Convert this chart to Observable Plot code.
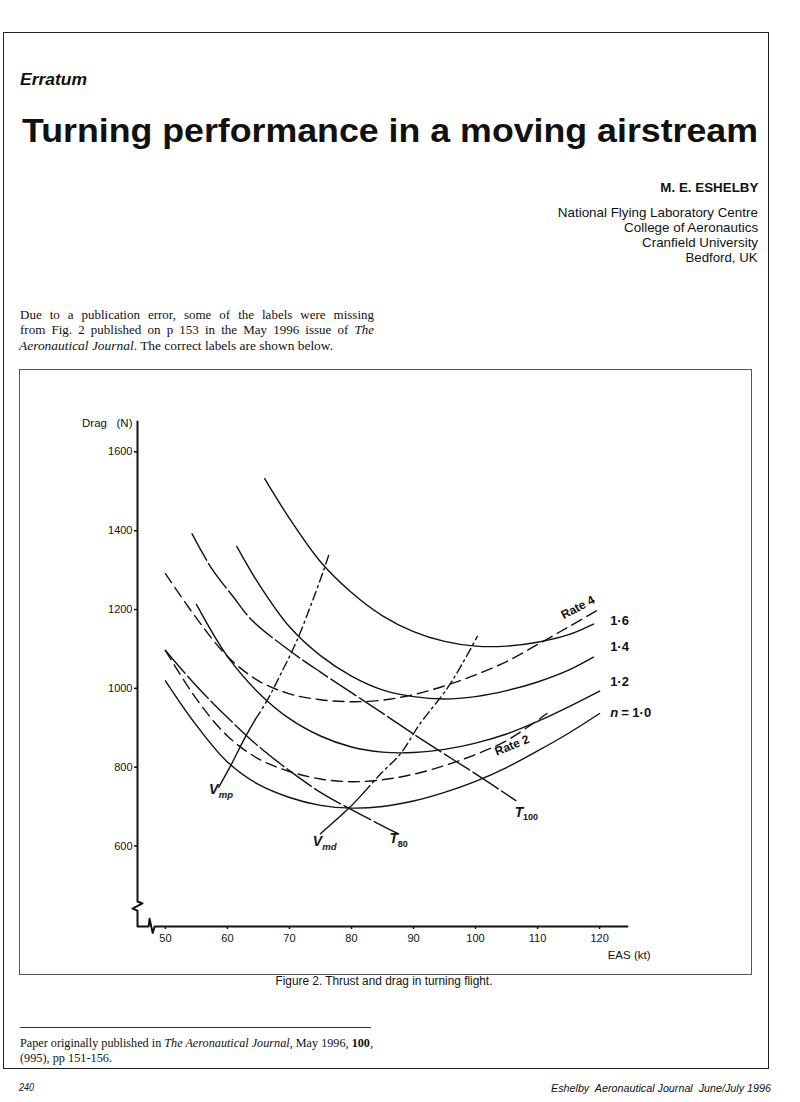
<!DOCTYPE html>
<html><head><meta charset="utf-8">
<script src="https://cdn.jsdelivr.net/npm/d3@7"></script>
<script src="https://cdn.jsdelivr.net/npm/@observablehq/plot@0.6"></script>
<style>
body{margin:0;background:#fff;}
#page{position:relative;width:800px;height:1102px;overflow:hidden;background:#fff;color:#111;font-family:"Liberation Sans",Arial,Helvetica,sans-serif;}
.t{position:absolute;white-space:pre;}
.serif{font-family:"Liberation Serif","Times New Roman",serif;}
.box{position:absolute;box-sizing:border-box;}
#chart{position:absolute;left:0;top:380px;}
#chart svg{overflow:visible;}
</style></head>
<body><div id="page">
<div class="box" style="left:3px;top:32px;width:766px;height:1037px;border:1.5px solid #222;"></div>
<div class="box" style="left:19px;top:369px;width:733px;height:606px;border:1px solid #555;"></div>
<div id="erratum" class="t" style="font-weight:bold;font-style:italic;">Erratum</div>
<div id="title" class="t" style="font-weight:bold;">Turning performance in a moving airstream</div>
<div id="author" class="t" style="font-weight:bold;">M. E. ESHELBY</div>
<div id="aff1" class="t">National Flying Laboratory Centre</div>
<div id="aff2" class="t">College of Aeronautics</div>
<div id="aff3" class="t">Cranfield University</div>
<div id="aff4" class="t">Bedford, UK</div>
<div id="p1" class="t serif">Due to a publication error, some of the labels were missing</div>
<div id="p2" class="t serif">from Fig. 2 published on p 153 in the May 1996 issue of <i>The</i></div>
<div id="p3" class="t serif"><i>Aeronautical Journal</i>. The correct labels are shown below.</div>
<div id="chart"></div>
<div id="caption" class="t">Figure 2. Thrust and drag in turning flight.</div>
<div class="box" style="left:20px;top:1026.5px;width:351px;height:1px;background:#333;"></div>
<div id="f1" class="t serif">Paper originally published in <i>The Aeronautical Journal</i>, May 1996, <b>100</b>,</div>
<div id="f2" class="t serif">(995), pp 151-156.</div>
<div id="pageno" class="t" style="font-style:italic;">240</div>
<div id="running" class="t" style="font-style:italic;">Eshelby  Aeronautical Journal  June/July 1996</div>
</div>
<script>
// ---- data (EAS in kt, drag/thrust in N) ----
const xTicks = [50, 60, 70, 80, 90, 100, 110, 120];
const yTicks = [600, 800, 1000, 1200, 1400, 1600];

const dragN10 = [[50,1028],[55,915],[60,822],[65,765],[70,732],[75,712],[80,705],[85,709],[90,723],[95,745],[100,773],[105,808],[110,850],[115,895],[120,945]];
const dragN12 = [[55,1222],[60,1090],[65,998],[70,932],[75,888],[80,860],[85,847],[90,846],[95,854],[100,870],[105,893],[110,925],[115,962],[120,1002]];
const dragN14 = [[61.5,1369],[65,1275],[70,1165],[75,1092],[80,1040],[85,1005],[90,988],[95,982],[100,988],[105,1003],[110,1025],[115,1055],[119,1088]];
const dragN16 = [[66,1541],[70,1440],[75,1330],[80,1252],[85,1193],[90,1153],[95,1128],[100,1116],[105,1116],[110,1126],[115,1145],[119,1172]];

const rate2 = [[50,1105],[55,982],[60,888],[65,830],[70,798],[75,779],[80,772],[85,777],[90,791],[95,813],[100,841],[105,876],[111.5,945]];
const rate4 = [[50,1300],[55,1187],[60,1090],[65,1028],[70,995],[75,980],[80,975],[85,979],[90,993],[95,1015],[100,1043],[105,1077],[110,1120],[115,1165],[120,1210]];

const thrust80 = [[50,1105],[55,1015],[60,935],[65,862],[70,800],[75,745],[80,701],[85,660],[87.5,640]];
const thrust100 = [[54.3,1401],[57.5,1312],[61,1240],[64,1181],[70,1105],[75,1050],[80,998],[85,946],[90,893],[95,842],[100,792],[106.5,724]];

const vmpSolid = [[58.6,758],[60.5,812],[62.6,877],[64.5,930]];
const vmpDashDot = [[64.5,930],[66.4,978],[69,1058],[71.2,1130],[73.5,1222],[75.5,1308],[76.5,1355]];
const vmdSolid = [[75,640],[79.6,705],[82,745]];
const vmdDashDot = [[82,745],[84.7,792],[87.9,843],[91,918],[95.4,1008],[98,1075],[100.3,1141]];

// broken-axis outline (data units)
const axisOutline = [[45.5,1686],[45.5,468],[46.3,463],[44.7,450],[45.5,445],[45.5,404.6],[47.3,404.6],[47.45,424],[47.95,388],[48.27,404.6],[124.5,404.6]];

const nLabels = [{text:"1·6", x:121.7, y:1181},{text:"1·4", x:121.7, y:1113},{text:"1·2", x:121.7, y:1025}];
const nOneLabel = [{x:121.7, y:948}];
const rate4Label = [{text:"Rate 4", x:116.5, y:1214}];
const rate2Label = [{text:"Rate 2", x:105.9, y:864}];
const vLabels = [{main:"V", sub:"mp", x:57.8, y:751},{main:"V", sub:"md", x:74.5, y:619}];
const tLabels = [{main:"T", sub:"80", x:86.8, y:627},{main:"T", sub:"100", x:107, y:695}];
const yAxisTitle = ["Drag\u00a0\u00a0\u00a0(N)"];
const xAxisTitle = ["EAS (kt)"];

const pts = a => a.map(([x, y]) => ({x, y}));
const ink = "#111";
const lineOpts = (extra) => Object.assign({x:"x", y:"y", stroke: ink, strokeWidth: 1.4, curve: "catmull-rom"}, extra || {});

const chart = Plot.plot({
  width: 800, height: 590,
  marginLeft: 137, marginRight: 173, marginTop: 41, marginBottom: 44,
  x: {domain: [45.5, 124.5], axis: null},
  y: {domain: [404.6, 1686], axis: null},
  style: {fontFamily: '"Liberation Sans", Arial, sans-serif', fontSize: "11px", color: ink, background: "transparent"},
  marks: [
    Plot.line(pts(axisOutline), {x:"x", y:"y", stroke: ink, strokeWidth: 2, curve: "linear"}),
    Plot.axisY({ticks: yTicks, anchor: "left", tickSize: 3, tickPadding: 2, dy: -3.5, fontSize: 11, label: null, tickFormat: "d", strokeWidth: 1.5}),
    Plot.axisX({ticks: xTicks, anchor: "bottom", tickSize: 3, tickPadding: 5, fontSize: 11, label: null, tickFormat: "d", strokeWidth: 1.5}),
    Plot.text(yAxisTitle, {text: d => d, frameAnchor: "top-left", dx: -5, dy: -3, textAnchor: "end", fontSize: 11.5}),
    Plot.text(xAxisTitle, {text: d => d, frameAnchor: "bottom-right", dx: 23, dy: 32, textAnchor: "end", fontSize: 11.5}),
    Plot.line(pts(dragN10), lineOpts()),
    Plot.line(pts(dragN12), lineOpts()),
    Plot.line(pts(dragN14), lineOpts()),
    Plot.line(pts(dragN16), lineOpts()),
    Plot.line(pts(rate2), lineOpts({strokeDasharray: "11,6"})),
    Plot.line(pts(rate4), lineOpts({strokeDasharray: "11,6"})),
    Plot.line(pts(thrust80), lineOpts({strokeDasharray: "30,4"})),
    Plot.line(pts(thrust100), lineOpts({strokeDasharray: "30,4"})),
    Plot.line(pts(vmpSolid), lineOpts()),
    Plot.line(pts(vmpDashDot), lineOpts({strokeDasharray: "9,4,2,4"})),
    Plot.line(pts(vmdSolid), lineOpts()),
    Plot.line(pts(vmdDashDot), lineOpts({strokeDasharray: "9,4,2,4"})),
    Plot.text(nLabels, {x:"x", y:"y", text:"text", textAnchor:"start", fontSize: 13, fontWeight: "bold"}),
    Plot.text(nOneLabel, {x:"x", y:"y", text: () => "n", textAnchor:"start", fontSize: 13, fontWeight: "bold", fontStyle: "italic"}),
    Plot.text(nOneLabel, {x:"x", y:"y", text: () => "= 1·0", textAnchor:"start", dx: 11, fontSize: 13, fontWeight: "bold"}),
    Plot.text(rate4Label, {x:"x", y:"y", text:"text", rotate: -28, fontSize: 12, fontWeight: "bold"}),
    Plot.text(rate2Label, {x:"x", y:"y", text:"text", rotate: -22, fontSize: 12, fontWeight: "bold"}),
    Plot.text(vLabels, {x:"x", y:"y", text:"main", fontSize: 14, fontStyle:"italic", fontWeight:"bold"}),
    Plot.text(vLabels, {x:"x", y:"y", text:"sub", textAnchor:"start", dx: 5, dy: 5, fontSize: 9.5, fontStyle:"italic", fontWeight:"bold"}),
    Plot.text(tLabels, {x:"x", y:"y", text:"main", fontSize: 14, fontStyle:"italic", fontWeight:"bold"}),
    Plot.text(tLabels, {x:"x", y:"y", text:"sub", textAnchor:"start", dx: 4, dy: 5, fontSize: 9, fontWeight:"bold"})
  ]
});
document.getElementById("chart").appendChild(chart);

// ---- page text placement ----
function place(id, o) {
  const el = document.getElementById(id);
  el.style.fontSize = o.size + "px";
  el.style.lineHeight = o.size + "px";
  el.style.top = (o.base - (o.serif ? 0.8375 : 0.8465) * o.size) + "px";
  const w = el.getBoundingClientRect().width;
  if (o.justify) {
    el.style.left = o.x + "px";
    el.style.transformOrigin = "left center";
    const n = (el.textContent.match(/ /g) || []).length;
    if (w <= o.width) {
      el.style.wordSpacing = ((o.width - w) / n) + "px";
    } else {
      el.style.transform = "scaleX(" + (o.width / w) + ")";
    }
    return;
  }
  const s = o.width ? o.width / w : 1;
  if (o.align === "right") {
    el.style.right = (800 - o.x) + "px";
    el.style.transformOrigin = "right center";
  } else if (o.align === "center") {
    el.style.left = (o.x - w / 2) + "px";
    el.style.transformOrigin = "center center";
  } else {
    el.style.left = o.x + "px";
    el.style.transformOrigin = "left center";
  }
  el.style.transform = "scaleX(" + s + ")";
}
place("erratum", {x: 20, base: 85.5, size: 17, width: 67});
place("title", {x: 22, base: 142, size: 33, width: 736});
place("author", {x: 758, base: 192.5, size: 13, width: 98, align: "right"});
place("aff1", {x: 758, base: 217.5, size: 13.5, width: 200, align: "right"});
place("aff2", {x: 758, base: 232.5, size: 13.5, width: 134, align: "right"});
place("aff3", {x: 758, base: 247.5, size: 13.5, width: 116, align: "right"});
place("aff4", {x: 758, base: 262, size: 13.5, width: 72, align: "right"});
place("p1", {x: 20, base: 318.5, size: 13, serif: true, width: 354, justify: true});
place("p2", {x: 20, base: 334, size: 13, serif: true, width: 354, justify: true});
place("p3", {x: 19, base: 349.5, size: 13, serif: true, width: 314});
place("caption", {x: 383.5, base: 985.5, size: 12, width: 217, align: "center"});
place("f1", {x: 20, base: 1047, size: 13, serif: true, width: 353, justify: true});
place("f2", {x: 20, base: 1062, size: 13, serif: true, width: 92});
place("pageno", {x: 19, base: 1091.5, size: 10, width: 15});
place("running", {x: 771, base: 1091.5, size: 10.5, width: 220, align: "right"});
</script>
</body></html>
